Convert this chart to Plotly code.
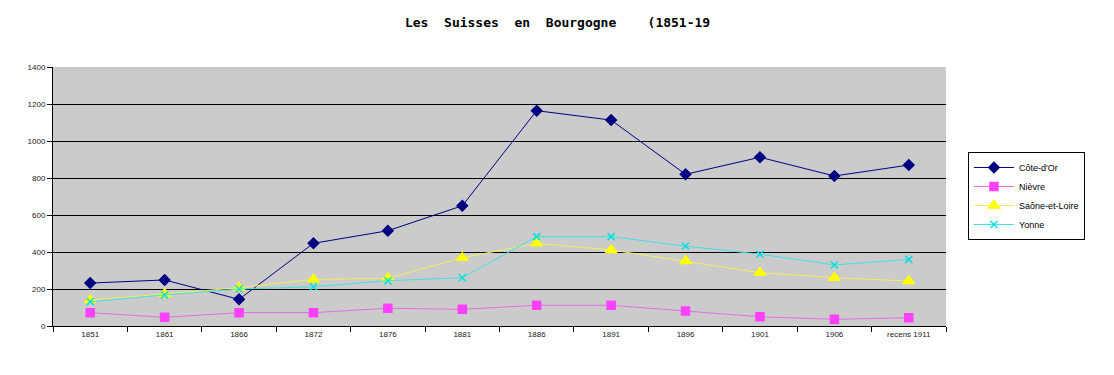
import plotly.graph_objects as go

categories = ["1851", "1861", "1866", "1872", "1876", "1881", "1886", "1891", "1896", "1901", "1906", "recens 1911"]
cote_dor = [232, 249, 144, 447, 515, 650, 1164, 1113, 820, 912, 811, 870]
nievre = [72, 47, 72, 72, 96, 90, 112, 112, 81, 50, 36, 45]
saone_et_loire = [140, 173, 207, 252, 258, 369, 447, 411, 351, 288, 261, 243]
yonne = [131, 168, 200, 212, 245, 261, 483, 483, 432, 388, 330, 360]
y_ticks = [0, 200, 400, 600, 800, 1000, 1200, 1400]

fig = go.Figure()
series = [
    ("Côte-d'Or", cote_dor, "#000080", "#000080", "diamond", 8),
    ("Nièvre", nievre, "#E070E0", "#FF40FF", "square", 8),
    ("Saône-et-Loire", saone_et_loire, "#F0F060", "#FFFF00", "triangle-up", 10),
    ("Yonne", yonne, "#40E0E0", "#00E0E0", "x-thin", 7),
]
for name, vals, lc, mc, sym, sz in series:
    fig.add_trace(go.Scatter(
        x=categories, y=vals, name=name, mode="lines+markers",
        line=dict(color=lc, width=1),
        marker=dict(symbol=sym, size=sz, color=mc, line=dict(color=mc, width=1.5)),
    ))

fig.update_layout(
    width=1098, height=359,
    margin=dict(l=45, r=160, t=59, b=41),
    paper_bgcolor="white", plot_bgcolor="#CBCBCB",
    title=dict(
        text="Les\u00a0\u00a0Suisses\u00a0\u00a0en\u00a0\u00a0Bourgogne\u00a0\u00a0\u00a0\u00a0(1851-19",
        x=0.5005, xanchor="center", xref="container", y=0.961, yanchor="middle",
        yref="container",
        font=dict(family="DejaVu Sans Mono", size=13, color="black", weight="bold"),
    ),
    showlegend=True,
    legend=dict(
        x=1.0246, xanchor="left", y=0.502, yanchor="middle",
        bgcolor="white", bordercolor="black", borderwidth=1,
        font=dict(family="Liberation Sans", size=9, color="black"),
        tracegroupgap=0, itemwidth=40,
    ),
    font=dict(family="Liberation Sans", size=8, color="#333333"),
)
fig.update_xaxes(
    type="category", tickson="boundaries", ticks="outside", ticklen=5,
    tickcolor="black", showline=True, linecolor="black", linewidth=1,
    showgrid=False, mirror=False, tickfont=dict(size=8, color="#222222"),
    range=[-0.5, len(categories) - 0.5],
)
fig.update_yaxes(
    range=[0, 1400], tickvals=y_ticks, ticks="outside", ticklen=5,
    tickcolor="black", showline=True, linecolor="black", linewidth=1,
    showgrid=True, gridcolor="black", gridwidth=1, zeroline=False,
    tickfont=dict(size=8, color="#222222"),
)
fig.write_html("out.html")
